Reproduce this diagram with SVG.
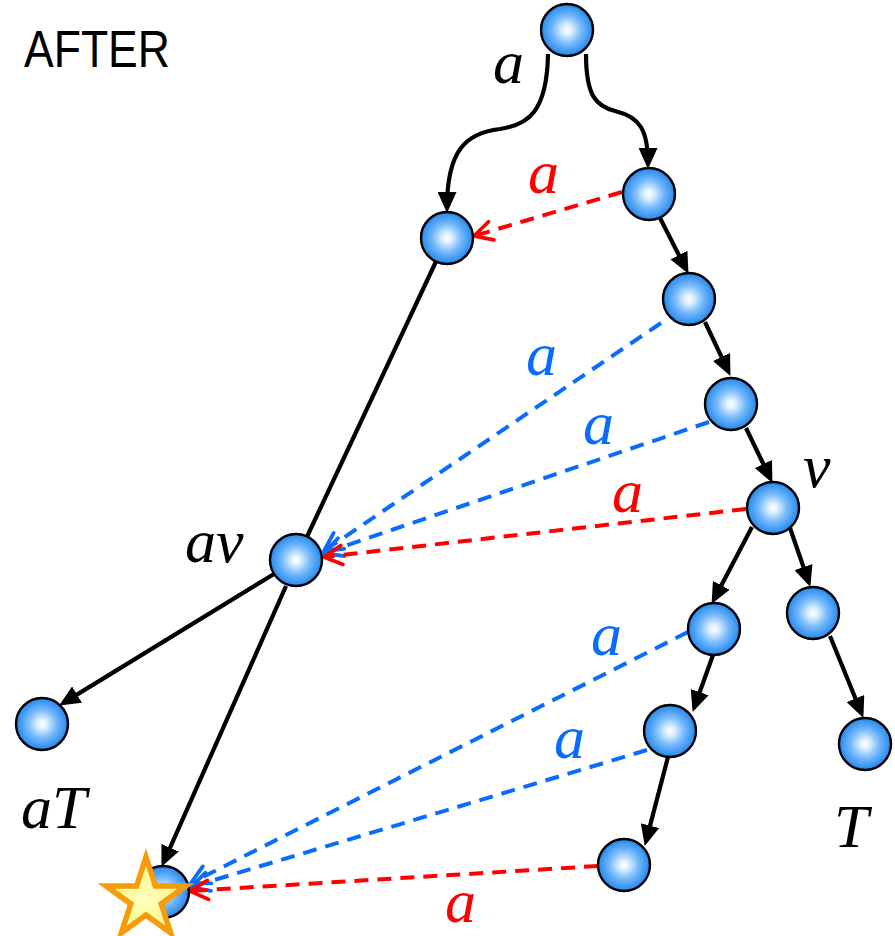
<svg xmlns="http://www.w3.org/2000/svg" width="895" height="936" viewBox="0 0 895 936">
  <style>
    .node { fill: url(#ball); stroke: #000; stroke-width: 2.4; }
    .edge { fill: none; stroke: #000; stroke-width: 4.2; marker-end: url(#ah); }
    .plain { fill: none; stroke: #000; stroke-width: 4.2; }
    .red { fill: none; stroke: #ff0000; stroke-width: 4; stroke-dasharray: 14 9; marker-end: url(#ohr); }
    .blue { fill: none; stroke: #0a6cff; stroke-width: 4; stroke-dasharray: 14 9; marker-end: url(#ohb); }
    .lbl { font-family: "Liberation Serif", "Times New Roman", serif; font-style: italic; font-size: 62px; }
    .lr { fill: #ff0000; }
    .lb { fill: #0a6cff; }
    .lk { fill: #000; }
  </style>
  <defs>
    <radialGradient id="ball" cx="0.5" cy="0.5" r="0.5">
      <stop offset="0" stop-color="#ffffff"/>
      <stop offset="0.18" stop-color="#dff0ff"/>
      <stop offset="0.55" stop-color="#74b9fb"/>
      <stop offset="1" stop-color="#2487ee"/>
    </radialGradient>
    <radialGradient id="starfill" cx="0.5" cy="0.55" r="0.5">
      <stop offset="0" stop-color="#ffffc0"/>
      <stop offset="1" stop-color="#fbf77e"/>
    </radialGradient>
    <marker id="ah" markerUnits="userSpaceOnUse" viewBox="0 0 21 19" refX="16" refY="9.5" markerWidth="21" markerHeight="19" orient="auto">
      <path d="M0,0 L21,9.5 L0,19 z" fill="#000"/>
    </marker>
    <marker id="ohr" markerUnits="userSpaceOnUse" viewBox="-22 -13 26 26" refX="0" refY="0" markerWidth="26" markerHeight="26" orient="auto">
      <path d="M-18,-9.5 L0,0 L-18,9.5" fill="none" stroke="#ff0000" stroke-width="3.8" stroke-linecap="round" stroke-linejoin="round"/>
    </marker>
    <marker id="ohb" markerUnits="userSpaceOnUse" viewBox="-22 -13 26 26" refX="0" refY="0" markerWidth="26" markerHeight="26" orient="auto">
      <path d="M-18,-9.5 L0,0 L-18,9.5" fill="none" stroke="#0a6cff" stroke-width="3.8" stroke-linecap="round" stroke-linejoin="round"/>
    </marker>
  </defs>
  <rect width="895" height="936" fill="#fff"/>

  <text x="24" y="67" font-family="'Liberation Sans', Arial, sans-serif" font-size="51" textLength="146" lengthAdjust="spacingAndGlyphs" fill="#000">AFTER</text>

  <g id="connectors">
    <path class="edge" d="M 548 54 C 547 112, 528 125, 500 129 C 466 133, 447 150, 447 208"/>
    <path class="edge" d="M 586 54 C 586 96, 596 106, 615 111 C 640 117, 648 130, 648 164"/>
    <line class="edge" x1="660" y1="218" x2="686.2" y2="269.4"/>
    <line class="edge" x1="705" y1="322" x2="728.3" y2="371.4"/>
    <line class="edge" x1="746" y1="428" x2="770.3" y2="478.4"/>
    <line class="edge" x1="752" y1="527" x2="713.9" y2="599.5"/>
    <line class="edge" x1="790" y1="528" x2="808.7" y2="582.2"/>
    <line class="edge" x1="830" y1="636" x2="861.5" y2="713.3"/>
    <line class="edge" x1="713" y1="655" x2="694.3" y2="707.2"/>
    <line class="edge" x1="668" y1="757" x2="646.0" y2="841.1"/>
    <line class="plain" x1="436" y1="261.5" x2="307.1" y2="536.5"/>
    <line class="edge" x1="274" y1="574" x2="63.4" y2="702.9"/>
    <line class="edge" x1="286" y1="586" x2="163.6" y2="862.3"/>

    <line class="red" x1="622" y1="192" x2="474" y2="236"/>
    <line class="blue" x1="661" y1="323" x2="324" y2="551"/>
    <line class="blue" x1="709" y1="422" x2="324" y2="553"/>
    <line class="red" x1="746" y1="509" x2="324" y2="557"/>
    <line class="blue" x1="688" y1="632" x2="191" y2="883"/>
    <line class="blue" x1="647" y1="750" x2="191" y2="887"/>
    <line class="red" x1="598" y1="866" x2="190" y2="891"/>

    <text class="lbl lk" x="493" y="83">a</text>
    <text class="lbl lr" x="528" y="193">a</text>
    <text class="lbl lb" x="526" y="375">a</text>
    <text class="lbl lb" x="583" y="444">a</text>
    <text class="lbl lr" x="612" y="512">a</text>
    <text class="lbl lb" x="591" y="655">a</text>
    <text class="lbl lb" x="554" y="758">a</text>
    <text class="lbl lr" x="445" y="922">a</text>
  </g>

  <g id="root"><circle class="node" cx="567" cy="30" r="26"/></g>
  <g id="r1"><circle class="node" cx="649" cy="194" r="26"/></g>
  <g id="l1"><circle class="node" cx="447" cy="238" r="26"/></g>
  <g id="r2"><circle class="node" cx="689" cy="299" r="26"/></g>
  <g id="r3"><circle class="node" cx="731" cy="404" r="26"/></g>
  <g id="v"><circle class="node" cx="773" cy="508" r="26"/><text class="lbl lk" x="803" y="487">v</text></g>
  <g id="av"><circle class="node" cx="296" cy="560" r="26"/><text class="lbl lk" x="185" y="562">av</text></g>
  <g id="r4"><circle class="node" cx="714" cy="629" r="26"/></g>
  <g id="tr"><circle class="node" cx="813" cy="613" r="26"/></g>
  <g id="r5"><circle class="node" cx="670" cy="731" r="26"/></g>
  <g id="t"><circle class="node" cx="865" cy="744" r="26"/><text class="lbl lk" x="834" y="847">T</text></g>
  <g id="r6"><circle class="node" cx="624" cy="865" r="26"/></g>
  <g id="at"><circle class="node" cx="42" cy="724" r="26"/><text class="lbl lk" x="21" y="828">aT</text></g>
  <g id="s">
    <circle class="node" cx="163" cy="892" r="26"/>
    <polygon points="146,857 155.4,886.1 185.9,886 161.2,903.9 170.7,933 146,915 121.3,933 130.8,903.9 106.1,886 136.6,886.1" fill="url(#starfill)" stroke="#f59b0c" stroke-width="5.5" stroke-linejoin="miter"/>
  </g>
</svg>
